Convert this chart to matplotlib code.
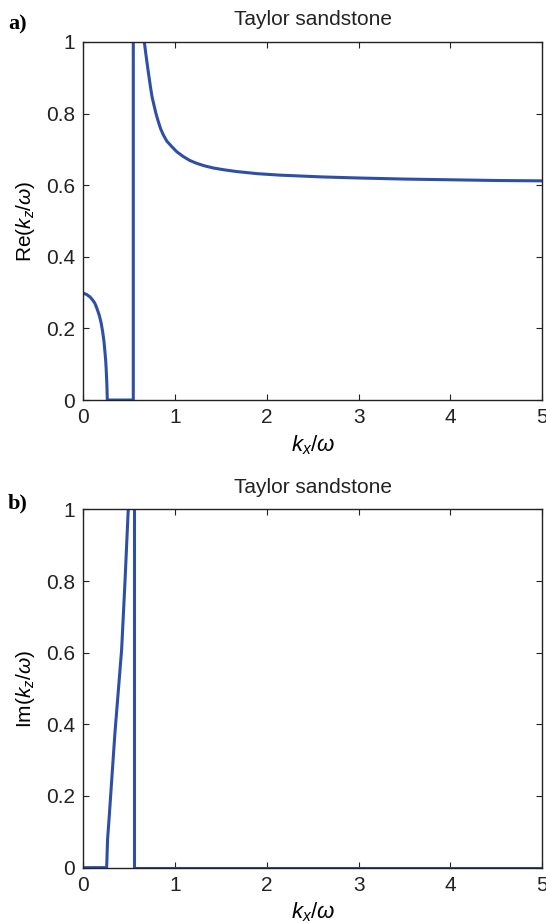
import matplotlib
matplotlib.use("Agg")
import matplotlib.pyplot as plt

plt.rcParams['font.family'] = ['Liberation Sans', 'DejaVu Sans']
plt.rcParams['mathtext.fontset'] = 'custom'
plt.rcParams['mathtext.rm'] = 'Liberation Sans'
plt.rcParams['mathtext.it'] = 'Liberation Sans:italic'

blue = '#2f4fa6'

# Re(kz/w): branch falling to zero, zero plateau, vertical jump
re_x1 = [0.0, 0.035, 0.073, 0.100, 0.127, 0.150, 0.174, 0.195, 0.211, 0.225,
         0.236, 0.245, 0.251, 0.257, 0.262, 0.545, 0.545]
re_y1 = [0.298, 0.295, 0.288, 0.280, 0.270, 0.255, 0.237, 0.215, 0.191, 0.165,
         0.135, 0.108, 0.079, 0.045, 0.0, 0.0, 1.05]
# Re(kz/w): decaying branch
re_x2 = [0.655, 0.665, 0.683, 0.708, 0.734, 0.750, 0.770, 0.792, 0.817, 0.842,
         0.871, 0.910, 0.963, 1.020, 1.089, 1.160, 1.235, 1.320, 1.416, 1.530,
         1.671, 1.90, 2.14, 2.6, 3.0, 3.5, 4.0, 4.5, 5.0]
re_y2 = [1.05, 1.0, 0.964, 0.917, 0.871, 0.846, 0.824, 0.800, 0.778, 0.758,
         0.741, 0.723, 0.708, 0.693, 0.680, 0.669, 0.661, 0.654, 0.648, 0.643,
         0.638, 0.632, 0.628, 0.623, 0.620, 0.617, 0.615, 0.613, 0.612]

# Im(kz/w)
im_x1 = [0.0, 0.255, 0.265, 0.283, 0.345, 0.418, 0.454, 0.49, 0.495]
im_y1 = [0.0, 0.0, 0.08, 0.143, 0.376, 0.609, 0.795, 1.0, 1.05]
im_x2 = [0.552, 0.552, 5.0]
im_y2 = [1.05, 0.0, 0.0]

fig = plt.figure(figsize=(5.46, 9.23), dpi=100)
ax1 = fig.add_axes([0.1525, 0.5666, 0.8405, 0.388])
ax2 = fig.add_axes([0.1525, 0.0600, 0.8405, 0.388])

ax1.plot(re_x1, re_y1, color=blue, lw=2.2)
ax1.plot(re_x2, re_y2, color=blue, lw=2.2)
ax2.plot(im_x1, im_y1, color=blue, lw=2.2)
ax2.plot(im_x2, im_y2, color=blue, lw=2.2)

for ax, lab in [(ax1, r'Re($k_z/\omega$)'), (ax2, r'Im($k_z/\omega$)')]:
    ax.set_xlim(0, 5)
    ax.set_ylim(0, 1)
    ax.set_xticks([0, 1, 2, 3, 4, 5])
    ax.set_yticks([0, 0.2, 0.4, 0.6, 0.8, 1])
    ax.set_yticklabels(['0', '0.2', '0.4', '0.6', '0.8', '1'])
    ax.tick_params(direction='in', top=True, right=True, length=4, width=0.8,
                   labelsize=15, colors='#222222', pad=6)
    for s in ax.spines.values():
        s.set_linewidth(1.0)
        s.set_color('#222222')
    ax.set_title('Taylor sandstone', fontsize=15, pad=12, color='#222222')
    ax.set_xlabel(r'$k_x/\omega$', fontsize=16, labelpad=4)
    ax.set_ylabel(lab, fontsize=15, labelpad=6)

fig.text(8 / 546, 1 - 24 / 923, 'a)', fontsize=16, fontweight='bold',
         family='Liberation Serif', va='center', ha='left')
fig.text(8 / 546, 1 - 503 / 923, 'b)', fontsize=16, fontweight='bold',
         family='Liberation Serif', va='center', ha='left')

fig.savefig('out.png', dpi=100)
